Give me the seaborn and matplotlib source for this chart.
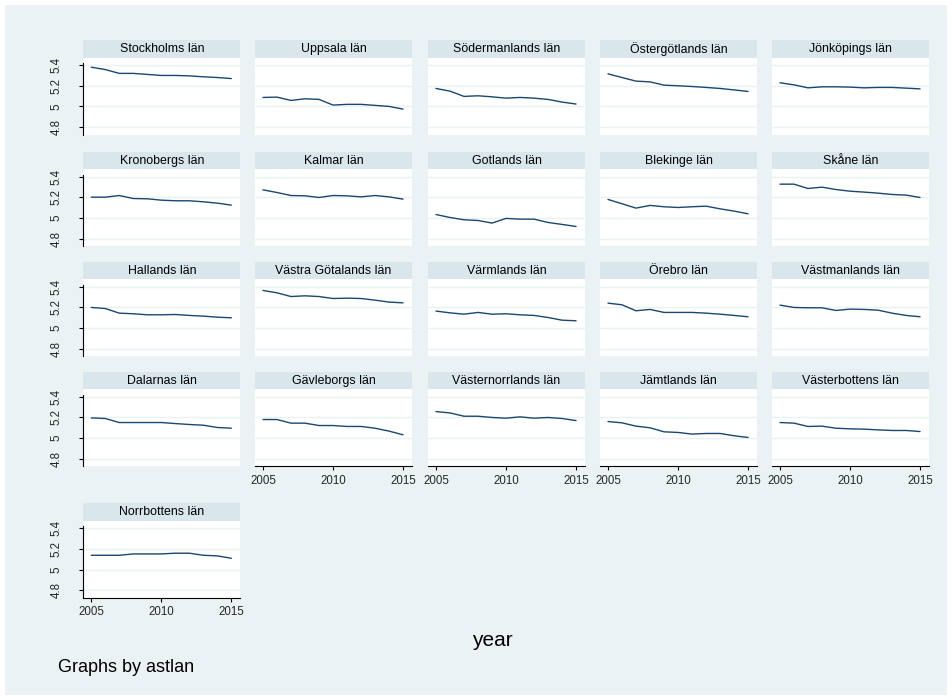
import matplotlib
matplotlib.use("Agg")
import matplotlib.pyplot as plt
from matplotlib.patches import Rectangle
import pandas as pd
import seaborn as sns

# ---- data -------------------------------------------------------------
years = list(range(2005, 2016))

counties = [
    "Stockholms län", "Uppsala län", "Södermanlands län", "Östergötlands län", "Jönköpings län",
    "Kronobergs län", "Kalmar län", "Gotlands län", "Blekinge län", "Skåne län",
    "Hallands län", "Västra Götalands län", "Värmlands län", "Örebro län", "Västmanlands län",
    "Dalarnas län", "Gävleborgs län", "Västernorrlands län", "Jämtlands län", "Västerbottens län",
    "Norrbottens län",
]

stockholm = [5.380, 5.357, 5.320, 5.320, 5.310, 5.300, 5.300, 5.296, 5.287, 5.280, 5.270]
uppsala = [5.087, 5.090, 5.058, 5.074, 5.068, 5.013, 5.020, 5.020, 5.010, 5.000, 4.974]
sodermanland = [5.174, 5.148, 5.097, 5.103, 5.093, 5.080, 5.087, 5.080, 5.068, 5.042, 5.023]
ostergotland = [5.316, 5.280, 5.245, 5.238, 5.206, 5.200, 5.193, 5.184, 5.174, 5.160, 5.145]
jonkoping = [5.229, 5.209, 5.180, 5.190, 5.190, 5.187, 5.180, 5.184, 5.184, 5.177, 5.170]
kronoberg = [5.203, 5.203, 5.219, 5.190, 5.187, 5.174, 5.168, 5.168, 5.158, 5.145, 5.126]
kalmar = [5.274, 5.248, 5.219, 5.216, 5.200, 5.219, 5.216, 5.206, 5.219, 5.206, 5.184]
gotland = [5.035, 5.006, 4.984, 4.977, 4.952, 4.997, 4.990, 4.990, 4.958, 4.939, 4.919]
blekinge = [5.181, 5.139, 5.097, 5.123, 5.110, 5.103, 5.110, 5.116, 5.090, 5.068, 5.042]
skane = [5.329, 5.329, 5.287, 5.300, 5.277, 5.261, 5.252, 5.242, 5.229, 5.223, 5.200]
halland = [5.200, 5.190, 5.145, 5.139, 5.129, 5.129, 5.132, 5.123, 5.116, 5.106, 5.100]
vastra_gotaland = [5.365, 5.342, 5.306, 5.313, 5.306, 5.287, 5.290, 5.287, 5.271, 5.252, 5.245]
varmland = [5.165, 5.148, 5.135, 5.152, 5.135, 5.139, 5.129, 5.123, 5.103, 5.077, 5.071]
orebro = [5.242, 5.226, 5.168, 5.181, 5.152, 5.152, 5.152, 5.145, 5.135, 5.123, 5.110]
vastmanland = [5.223, 5.200, 5.197, 5.197, 5.171, 5.184, 5.181, 5.174, 5.145, 5.123, 5.110]
dalarna = [5.196, 5.190, 5.151, 5.151, 5.151, 5.151, 5.141, 5.132, 5.125, 5.103, 5.096]
gavleborg = [5.180, 5.180, 5.145, 5.145, 5.122, 5.122, 5.113, 5.113, 5.096, 5.068, 5.032]
vasternorrland = [5.257, 5.244, 5.212, 5.212, 5.200, 5.193, 5.206, 5.193, 5.200, 5.190, 5.170]
jamtland = [5.161, 5.148, 5.116, 5.100, 5.061, 5.055, 5.039, 5.045, 5.045, 5.023, 5.006]
vasterbotten = [5.151, 5.145, 5.113, 5.116, 5.096, 5.090, 5.087, 5.080, 5.074, 5.074, 5.064]
norrbotten = [5.140, 5.140, 5.140, 5.153, 5.153, 5.153, 5.160, 5.160, 5.140, 5.134, 5.111]

series = [
    stockholm, uppsala, sodermanland, ostergotland, jonkoping,
    kronoberg, kalmar, gotland, blekinge, skane,
    halland, vastra_gotaland, varmland, orebro, vastmanland,
    dalarna, gavleborg, vasternorrland, jamtland, vasterbotten,
    norrbotten,
]

y_ticks = [4.8, 5.0, 5.2, 5.4]
y_tick_labels = ["4.8", "5", "5.2", "5.4"]
x_ticks = [2005, 2010, 2015]

df = pd.DataFrame(
    [(c, yr, v) for c, vals in zip(counties, series) for yr, v in zip(years, vals)],
    columns=["astlan", "year", "value"],
)

# ---- style ------------------------------------------------------------
sns.set_style("white")
plt.rcParams["font.family"] = ["Liberation Sans", "DejaVu Sans"]

BG = "#EAF2F3"
STRIP = "#D9E6EB"
NAVY = "#1A476F"

W, H = 952, 700
fig = plt.figure(figsize=(W / 100, H / 100), dpi=100, facecolor="white")
fig.patches.append(Rectangle((5 / W, 5 / H), (W - 10) / W, (H - 10) / H,
                             transform=fig.transFigure, facecolor=BG,
                             edgecolor="none", zorder=-10))

col_left = [83.3, 255.0, 428.0, 600.0, 772.0]
row_top = [40.0, 151.7, 261.7, 371.7, 503.3]
panel_w = 157.0
strip_h = 17.7
plot_h = 77.0

ylim = (4.726, 5.472)
xlim = (2004.43, 2015.64)
bottom_axis = {16, 17, 18, 19, 20}


def fig_rect(x, y_top, w, h):
    return [x / W, 1 - (y_top + h) / H, w / W, h / H]


for i, name in enumerate(counties):
    r, c = divmod(i, 5)
    x0 = col_left[c]
    y0 = row_top[r]

    # title strip
    sax = fig.add_axes(fig_rect(x0, y0, panel_w, strip_h))
    sax.set_facecolor(STRIP)
    sax.set_xticks([])
    sax.set_yticks([])
    for sp in sax.spines.values():
        sp.set_visible(False)
    sax.text(0.5, 0.5, name, ha="center", va="center", fontsize=8.9,
             color="black", transform=sax.transAxes)

    # plot region
    ax = fig.add_axes(fig_rect(x0, y0 + strip_h, panel_w, plot_h))
    ax.set_facecolor("white")
    sns.lineplot(data=df[df["astlan"] == name], x="year", y="value", ax=ax,
                 color=NAVY, linewidth=1.0, zorder=3)
    ax.set_xlim(*xlim)
    ax.set_ylim(*ylim)
    ax.set_xlabel("")
    ax.set_ylabel("")
    for yt in y_ticks:
        ax.axhline(yt, color=BG, linewidth=1.0, zorder=1)
    for side in ("top", "right"):
        ax.spines[side].set_visible(False)

    if c == 0:
        ax.spines["left"].set_visible(True)
        ax.spines["left"].set_color("black")
        ax.spines["left"].set_linewidth(0.8)
        ax.spines["left"].set_bounds(ylim[0], 5.42)
        ax.set_yticks(y_ticks)
        ax.set_yticklabels(y_tick_labels, rotation=90, va="center", fontsize=8.3)
        ax.tick_params(axis="y", direction="out", length=3, width=0.8,
                       color="black", pad=12, left=True)
    else:
        ax.spines["left"].set_visible(False)
        ax.set_yticks([])

    if i in bottom_axis:
        ax.spines["bottom"].set_visible(True)
        ax.spines["bottom"].set_color("black")
        ax.spines["bottom"].set_linewidth(0.8)
        ax.set_xticks(x_ticks)
        ax.set_xticklabels([str(t) for t in x_ticks], fontsize=8.3)
        ax.tick_params(axis="x", direction="out", length=3, width=0.8,
                       color="black", pad=3, bottom=True)
    else:
        ax.spines["bottom"].set_visible(False)
        ax.set_xticks([])

fig.text(492 / W, 1 - 646 / H, "year", ha="center", va="baseline",
         fontsize=15, color="black")
fig.text(58 / W, 1 - 672 / H, "Graphs by astlan", ha="left", va="baseline",
         fontsize=13, color="black")

fig.savefig("out.png", dpi=100, facecolor="white")
